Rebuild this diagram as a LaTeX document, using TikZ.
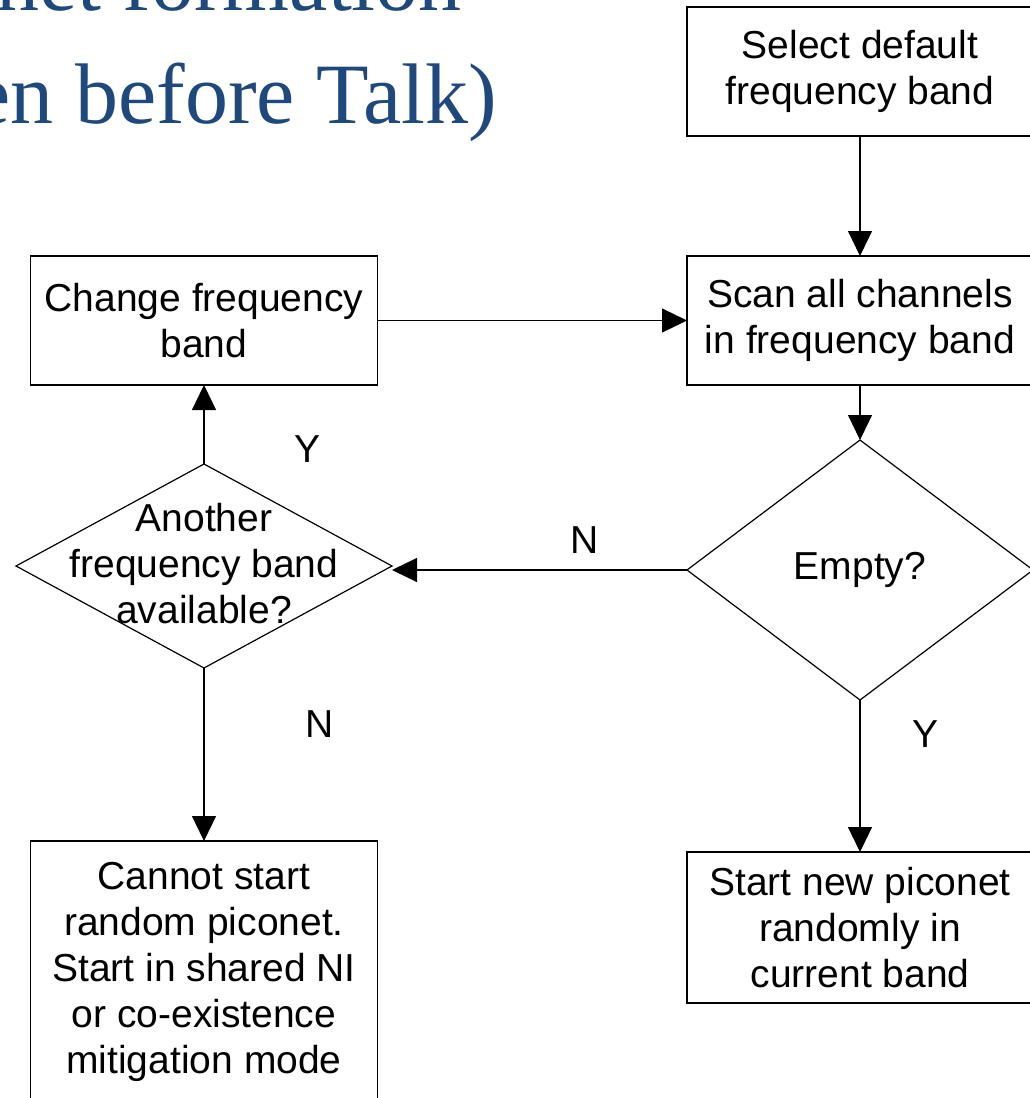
\documentclass[tikz,border=0pt]{standalone}
\usepackage{fontspec}
\setmainfont{Liberation Sans}
\newfontfamily\titlefont{Liberation Serif}
\usepackage{xcolor}
\usepackage{tikz}
\usetikzlibrary{positioning,arrows.meta,calc,shapes.geometric}
\definecolor{slideblue}{RGB}{31,73,125}
\tikzset{
  box/.style={draw, line width=1.2pt, minimum width=346pt, minimum height=129pt,
              inner sep=0pt, outer sep=0pt, align=center, font=\fontsize{39}{46}\selectfont},
  decision/.style={diamond, draw, line width=1.2pt, inner sep=0pt, outer sep=0pt,
                   align=center, font=\fontsize{39}{46}\selectfont},
  txt/.style={align=center, font=\fontsize{39}{46}\selectfont},
  flow/.style={-{Triangle[length=25pt,width=24pt]}, line width=1.2pt},
  lbl/.style={font=\fontsize{39}{46}\selectfont},
  ttl/.style={anchor=base east, inner sep=0pt, text=slideblue,
              font=\titlefont\fontsize{86}{113}\selectfont}
}

\begin{document}
\begin{tikzpicture}[x=1pt, y=-1pt]
    \useasboundingbox (0,0) rectangle (1030,1098);
    \clip (0,0) rectangle (1030,1098);
    % title of the slide, cut by the frame
    \node[ttl] (ttla) at (462,10) {onet formation};
    \node[ttl] (ttlb) at (497,123) {en before Talk)};
    % right column
    \node[box] (sel) at (860,71.5) {Select default\\frequency band};
    \node[box] (scan) at (860,320.5) {Scan all channels\\in frequency band};
    \node[decision, minimum width=346pt, minimum height=260pt] (empty) at (860,570) {Empty?};
    \node[box, minimum height=151pt] (start) at (860,927.5) {Start new piconet\\randomly in\\current band};
    % left column
    \node[box, minimum width=347pt] (chg) at (204,320.5) {Change frequency\\band};
    \node[decision, minimum width=376pt, minimum height=204pt] (avail) at (204,566) {};
    \node[txt] (availtxt) at (204,564) {Another\\frequency band\\available?};
    \node[box, minimum width=347pt, minimum height=262pt] (cannot) at (204,972) {Cannot start\\random piconet.\\Start in shared NI\\or co-existence\\mitigation mode};
    \draw[flow] (sel.south) -- (scan.north);
    \draw[flow] (scan.south) -- (empty.north);
    \draw[flow] (chg.east) -- (scan.west);
    \draw[flow] (empty.west) -- (empty.west -| avail.east);
    \draw[flow] (avail.north) -- (chg.south);
    \draw[flow] (avail.south) -- (cannot.north);
    \draw[flow] (empty.south) -- (start.north);
    \node[lbl] (ny) at (585,540) {N};
    \node[lbl] (yy) at (308,449) {Y};
    \node[lbl] (nn) at (320,724) {N};
    \node[lbl] (ye) at (925,734) {Y};
  \end{tikzpicture}
\end{document}
